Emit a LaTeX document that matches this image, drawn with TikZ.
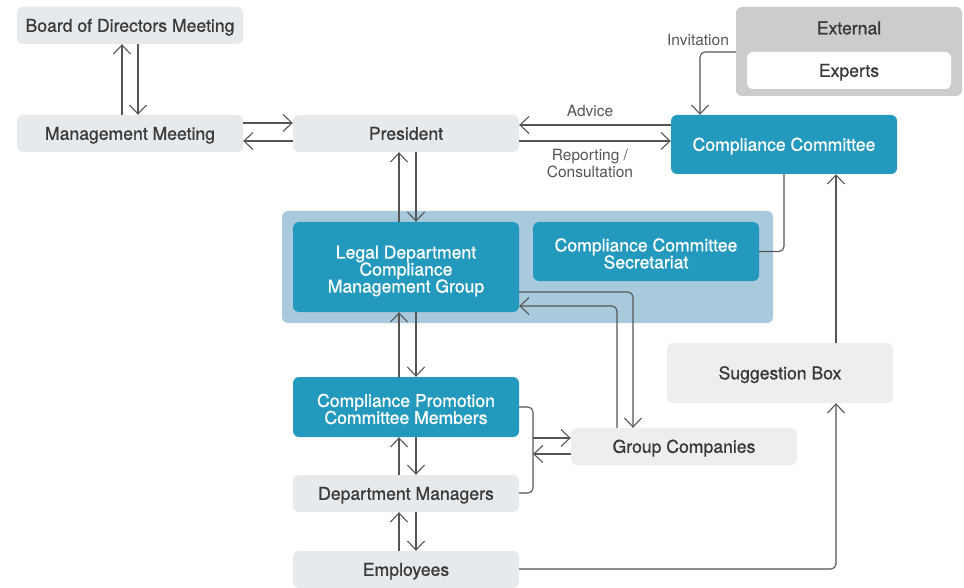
\documentclass[tikz,border=0pt]{standalone}
\usepackage{fontspec}
\setmainfont{TeX Gyre Heros}
\newfontfamily\medfont{TeX Gyre Heros}[FakeBold=0.9]
\usetikzlibrary{arrows.meta}
\definecolor{cblue}{HTML}{2399BE}
\definecolor{clight}{HTML}{E6EAEC}
\definecolor{cgray}{HTML}{EEEEEE}
\definecolor{cext}{HTML}{CBCCCC}
\definecolor{cband}{HTML}{A9C9DC}
\definecolor{ctext}{HTML}{3A3A3A}
\definecolor{cline}{HTML}{555555}
\begin{document}
\begin{tikzpicture}[x=1pt,y=-1pt,
  box/.style={rounded corners=6pt, inner sep=0pt, align=center, minimum width=226pt,
    font=\medfont\fontsize{17.6}{17}\selectfont, text height=12.6pt, text depth=0pt},
  lbox/.style={box, fill=clight, text=ctext},
  gbox/.style={box, fill=cgray, text=ctext},
  bbox/.style={box, fill=cblue, text=white},
  mtext/.style={font=\medfont\fontsize{17.6}{17}\selectfont, align=center, text=white, inner sep=0pt},
  lab/.style={font=\fontsize{15.5}{17}\selectfont, text=cline, align=center},
  conn/.style={draw=cline, line width=1.1pt, rounded corners=5pt},
  arr/.style={conn, -{Straight Barb[length=9pt,width=17pt]}}
]
\useasboundingbox (0,0) rectangle (964,588);
% groups
\node[fill=cband, rounded corners=6pt, minimum width=491pt, minimum height=112pt, inner sep=0pt] (band) at (527.5,267) {};
\node[fill=cext, rounded corners=6pt, minimum width=226pt, minimum height=89pt, inner sep=0pt] (ext) at (849,51.5) {};
\node[font=\medfont\fontsize{17.6}{17}\selectfont, text=ctext, text height=12.6pt, text depth=0pt, inner sep=0pt] (exttitle) at (849,28) {External};
\node[box, fill=white, text=ctext, minimum width=204pt, minimum height=37pt] (experts) at (849,70.5) {Experts};
% boxes
\node[lbox, minimum height=37pt] (board) at (130,25.5) {Board of Directors Meeting};
\node[lbox, minimum height=37pt] (mgmt) at (130,133.5) {Management Meeting};
\node[lbox, minimum height=37pt] (pres) at (406,133.5) {President};
\node[bbox, minimum height=59pt] (cc) at (784,144.5) {Compliance Committee};
\node[bbox, minimum height=90pt, label={[mtext, yshift=-4pt]center:{Legal Department\\Compliance\\Management Group}}] (legal) at (406,267) {};
\node[bbox, minimum height=59pt, label={[mtext, yshift=-2pt]center:{Compliance Committee\\Secretariat}}] (sec) at (646,251.5) {};
\node[bbox, minimum height=60pt, label={[mtext, yshift=-2pt]center:{Compliance Promotion\\Committee Members}}] (prom) at (406,407) {};
\node[lbox, minimum height=37pt] (dept) at (406,493.5) {Department Managers};
\node[lbox, minimum height=37pt] (emp) at (406,569.5) {Employees};
\node[gbox, minimum height=60pt] (sugg) at (780,373) {Suggestion Box};
\node[gbox, minimum height=37pt] (grp) at (684,446.5) {Group Companies};
% labels
\node[lab] (advice) at (590,111) {Advice};
\node[lab] (report) at (590,163) {Reporting /\\Consultation};
\node[lab] (invit) at (698,40) {Invitation};
% vertical pairs
\draw[arr] (122,0 |- mgmt.north) -- (122,0 |- board.south);
\draw[arr] (138,0 |- board.south) -- (138,0 |- mgmt.north);
\draw[arr] (399,0 |- legal.north) -- (399,0 |- pres.south);
\draw[arr] (416,0 |- pres.south) -- (416,0 |- legal.north);
\draw[arr] (399,0 |- prom.north) -- (399,0 |- legal.south);
\draw[arr] (416,0 |- legal.south) -- (416,0 |- prom.north);
\draw[arr] (399,0 |- dept.north) -- (399,0 |- prom.south);
\draw[arr] (416,0 |- prom.south) -- (416,0 |- dept.north);
\draw[arr] (399,0 |- emp.north) -- (399,0 |- dept.south);
\draw[arr] (416,0 |- dept.south) -- (416,0 |- emp.north);
% horizontal pairs
\draw[arr] (mgmt.east |- 0,123) -- (pres.west |- 0,123);
\draw[arr] (pres.west |- 0,141) -- (mgmt.east |- 0,141);
\draw[arr] (cc.west |- 0,125) -- (pres.east |- 0,125);
\draw[arr] (pres.east |- 0,141) -- (cc.west |- 0,141);
% invitation
\draw[arr] (ext.west |- 0,52) -- (700,52) -- (700,0 |- cc.north);
% secretariat to cc
\draw[conn] (sec.east) -- (784,0 |- sec.east) -- (cc.south);
% suggestion to cc
\draw[arr] (836,0 |- sugg.north) -- (836,0 |- cc.south);
% employees to suggestion
\draw[arr] (emp.east |- 0,569) -- (836,569) -- (836,0 |- sugg.south);
% legal <-> group
\draw[arr] (legal.east |- 0,292) -- (633,292) -- (633,0 |- grp.north);
\draw[arr] (617,0 |- grp.north) -- (617,306) -- (legal.east |- 0,306);
% bracket
\draw[conn] (prom.east |- 0,407) -- (533,407) -- (533,493) -- (dept.east |- 0,493);
\coordinate (brk1) at (533,438);
\coordinate (brk2) at (533,454);
\draw[arr] (brk1) -- (grp.west |- brk1);
\draw[arr] (grp.west |- brk2) -- (brk2);
\end{tikzpicture}
\end{document}
